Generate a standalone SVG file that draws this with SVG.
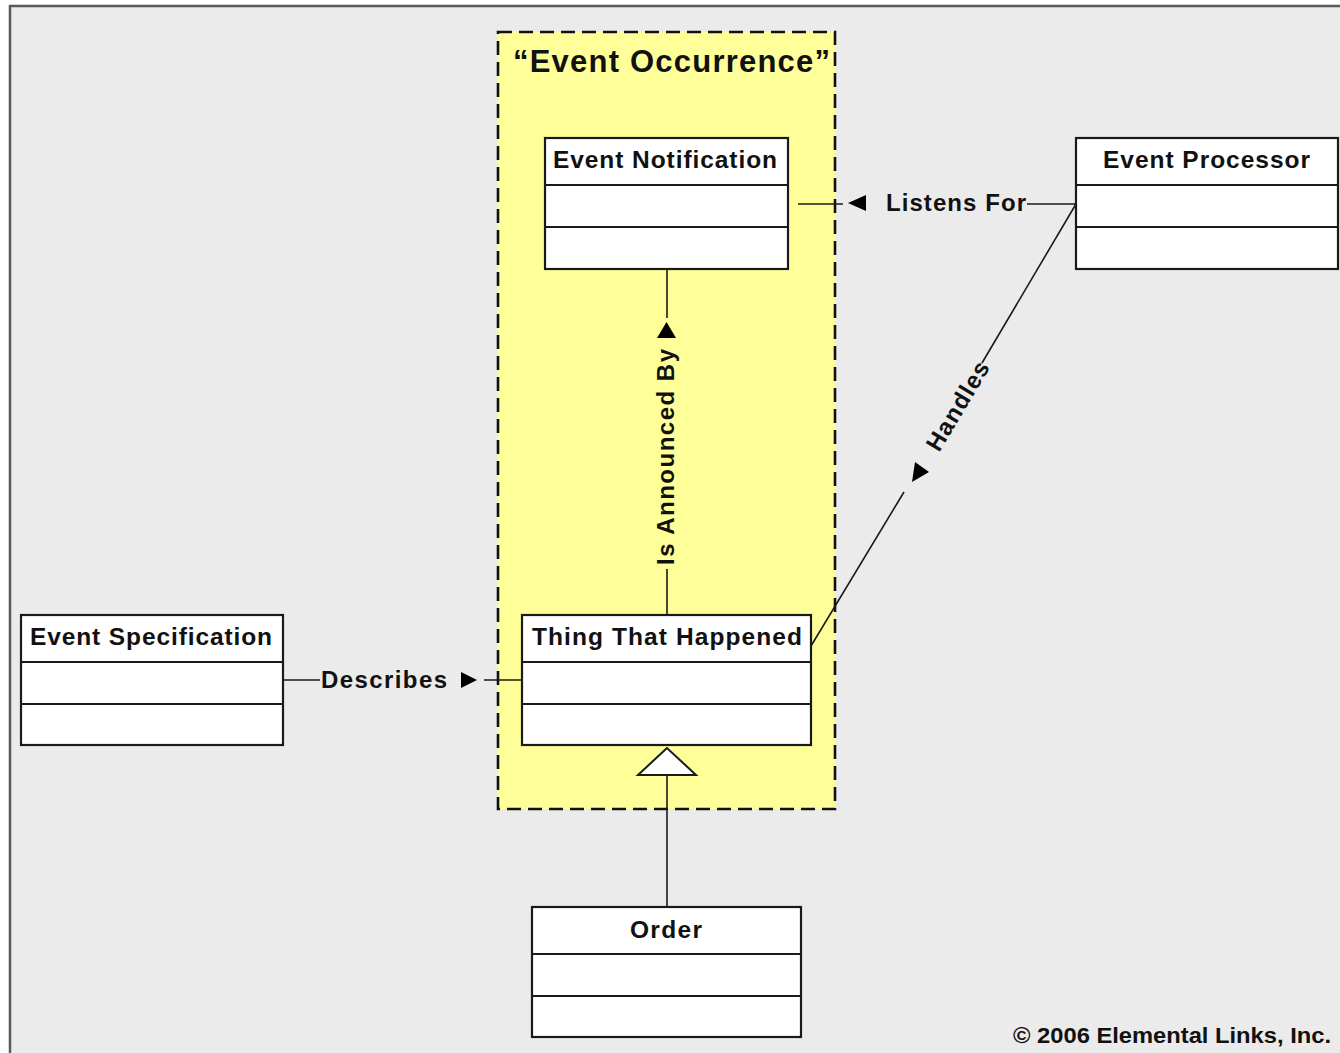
<svg xmlns="http://www.w3.org/2000/svg" width="1340" height="1053" viewBox="0 0 1340 1053">
  <style>
    .bg { fill: #ebebeb; stroke: #5a5a5a; stroke-width: 2.5; }
    .zone { fill: #ffff99; stroke: #111; stroke-width: 2.6; stroke-dasharray: 14 7; }
    .box { fill: #ffffff; stroke: #1a1a1a; stroke-width: 2.2; }
    .div { stroke: #1a1a1a; stroke-width: 2.2; fill: none; }
    .conn { stroke: #1a1a1a; stroke-width: 1.6; fill: none; }
    .head { fill: #000; stroke: none; }
    .hollow { fill: #fff; stroke: #1a1a1a; stroke-width: 2; }
    text { font-family: "Liberation Sans", Arial, sans-serif; font-weight: bold; fill: #111; }
    .name { font-size: 24.5px; }
    .lbl { font-size: 24px; }
    .title { font-size: 31px; }
    .copy { font-size: 22px; }
  </style>

  <rect class="bg" x="10" y="6" width="1345" height="1060"/>

  <g id="event-occurrence">
    <rect class="zone" x="498" y="32" width="337" height="777"/>
    <text class="title" x="513" y="72" textLength="317">“Event Occurrence”</text>
  </g>

  <g id="connectors">
    <g id="listens-for">
      <line class="conn" x1="798" y1="204" x2="843" y2="204"/>
      <polygon class="head" points="848,203 866,195 866,211"/>
      <text class="lbl" x="886" y="211" textLength="140">Listens For</text>
      <line class="conn" x1="1027" y1="204" x2="1076" y2="204"/>
    </g>
    <g id="handles">
      <line class="conn" x1="811" y1="646" x2="904" y2="492"/>
      <polygon class="head" points="915,462 929,472 912,482"/>
      <text class="lbl" transform="translate(939,453) rotate(-59)" x="0" y="0" textLength="100">Handles</text>
      <line class="conn" x1="982" y1="363" x2="1076" y2="204"/>
    </g>
    <g id="is-announced-by">
      <line class="conn" x1="667" y1="269" x2="667" y2="318"/>
      <polygon class="head" points="657,338 676,338 666.5,322"/>
      <text class="lbl" transform="translate(674,565) rotate(-90)" x="0" y="0" textLength="216">Is Announced By</text>
      <line class="conn" x1="667" y1="569" x2="667" y2="615"/>
    </g>
    <g id="describes">
      <line class="conn" x1="283" y1="680" x2="320" y2="680"/>
      <text class="lbl" x="321" y="688" textLength="126">Describes</text>
      <polygon class="head" points="461,672 477,680 461,688"/>
      <line class="conn" x1="484" y1="680" x2="522" y2="680"/>
    </g>
    <g id="order-is-a-thing">
      <line class="conn" x1="667" y1="775" x2="667" y2="907"/>
      <polygon class="hollow" points="667,748 638,775 696,775"/>
    </g>
  </g>

  <g id="event-notification">
    <rect class="box" x="545" y="138" width="243" height="131"/>
    <line class="div" x1="545" y1="185" x2="788" y2="185"/>
    <line class="div" x1="545" y1="227" x2="788" y2="227"/>
    <text class="name" x="553" y="168" textLength="224">Event Notification</text>
  </g>

  <g id="event-processor">
    <rect class="box" x="1076" y="138" width="262" height="131"/>
    <line class="div" x1="1076" y1="185" x2="1338" y2="185"/>
    <line class="div" x1="1076" y1="227" x2="1338" y2="227"/>
    <text class="name" x="1103" y="168" textLength="207">Event Processor</text>
  </g>

  <g id="event-specification">
    <rect class="box" x="21" y="615" width="262" height="130"/>
    <line class="div" x1="21" y1="662" x2="283" y2="662"/>
    <line class="div" x1="21" y1="704" x2="283" y2="704"/>
    <text class="name" x="30" y="645" textLength="242">Event Specification</text>
  </g>

  <g id="thing-that-happened">
    <rect class="box" x="522" y="615" width="289" height="130"/>
    <line class="div" x1="522" y1="662" x2="811" y2="662"/>
    <line class="div" x1="522" y1="704" x2="811" y2="704"/>
    <text class="name" x="532" y="645" textLength="270">Thing That Happened</text>
  </g>

  <g id="order">
    <rect class="box" x="532" y="907" width="269" height="130"/>
    <line class="div" x1="532" y1="954" x2="801" y2="954"/>
    <line class="div" x1="532" y1="996" x2="801" y2="996"/>
    <text class="name" x="630" y="938" textLength="72">Order</text>
  </g>

  <text class="copy" x="1013" y="1043" textLength="318" lengthAdjust="spacingAndGlyphs">© 2006 Elemental Links, Inc.</text>
</svg>
